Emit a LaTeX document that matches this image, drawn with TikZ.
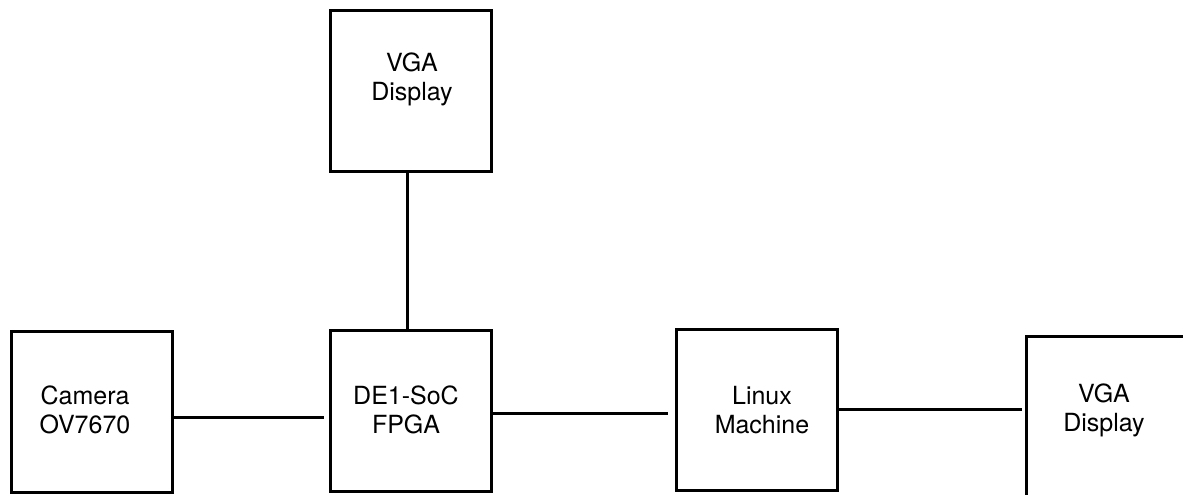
\documentclass[tikz,border=0pt]{standalone}
\usepackage{fontspec}
\setmainfont{TeX Gyre Heros}
\usepackage{tikz}
\usetikzlibrary{positioning, calc}
\definecolor{CBlack}{HTML}{000000}
\definecolor{CWhite}{HTML}{FFFFFF}

\begin{document}
\begin{tikzpicture}[x=1pt, y=-1pt,
    block/.style={draw=CBlack, fill=CWhite, line width=3.5pt, minimum width=161pt, minimum height=161pt, inner sep=0pt, outer sep=0pt, align=center, font=\fontsize{25}{29}\selectfont},
    blocktext/.style={align=center, font=\fontsize{25}{29}\selectfont},
    wire/.style={draw=CBlack, line width=3pt}]
    \useasboundingbox (0,0) rectangle (1183,495);

    % Blocks
    \node[block] (Cam) at (92,412) {};
    \node[blocktext] (CamText) at (85,410) {Camera\\OV7670};
    \node[block] (FPGA) at (411,411) {};
    \node[blocktext] (FPGAText) at (406,410) {DE1-SoC\\FPGA};
    \node[block] (VGATop) at (411,91) {};
    \node[blocktext] (VGATopText) at (412,79) {VGA\\Display};
    \node[block] (Linux) at (757,410) {};
    \node[blocktext] (LinuxText) at (762,410) {Linux\\Machine};
    \node[block] (VGARight) at (1107,417) {};
    \node[blocktext] (VGARightText) at (1104,410) {VGA\\Display};

    % Links
    \draw[wire, shorten >=7pt] ([yshift=-5pt]Cam.east) -- ([yshift=-5pt]Cam.east -| FPGA.west);
    \draw[wire, shorten >=9pt] ([yshift=-2pt]FPGA.east) -- ([yshift=-2pt]FPGA.east -| Linux.west);
    \draw[wire, shorten >=5pt] ([yshift=1pt]Linux.east) -- ([yshift=1pt]Linux.east -| VGARight.west);
    \draw[wire] ([xshift=-3.5pt]VGATop.south) -- ([xshift=-3.5pt]VGATop.south |- FPGA.north);

\end{tikzpicture}
\end{document}
